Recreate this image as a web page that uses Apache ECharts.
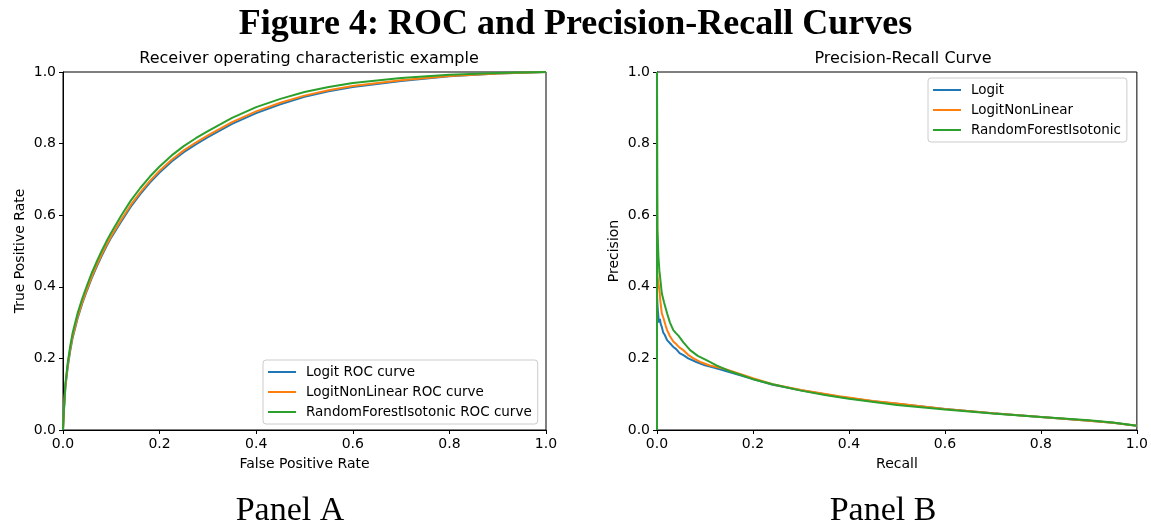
<!DOCTYPE html>
<html>
<head>
<meta charset="utf-8">
<script src="https://cdn.jsdelivr.net/npm/echarts@6/dist/echarts.min.js"></script>
<style>
  html, body { margin: 0; padding: 0; background: #fff; }
  #chart { width: 1151px; height: 524px; }
</style>
</head>
<body>
<div id="chart"></div>
<script>
// Panel A: ROC curves on a shared false-positive-rate grid
const rocFpr = [0, 0.002, 0.005, 0.01, 0.015, 0.02, 0.03, 0.04, 0.05, 0.06, 0.07, 0.08, 0.09, 0.1, 0.12, 0.14, 0.16, 0.18, 0.2, 0.225, 0.25, 0.275, 0.3, 0.35, 0.4, 0.45, 0.5, 0.55, 0.6, 0.7, 0.8, 0.9, 1.0];
const rocLogit = [0, 0.055, 0.12, 0.178, 0.222, 0.258, 0.311, 0.354, 0.391, 0.426, 0.457, 0.486, 0.513, 0.538, 0.581, 0.623, 0.659, 0.691, 0.719, 0.75, 0.776, 0.798, 0.818, 0.855, 0.885, 0.91, 0.931, 0.946, 0.958, 0.975, 0.988, 0.996, 1.0];
const rocLogitNonLinear = [0, 0.06, 0.125, 0.183, 0.227, 0.262, 0.315, 0.358, 0.395, 0.43, 0.461, 0.49, 0.517, 0.542, 0.586, 0.628, 0.664, 0.696, 0.724, 0.755, 0.781, 0.803, 0.823, 0.86, 0.89, 0.914, 0.934, 0.949, 0.961, 0.977, 0.989, 0.996, 1.0];
const rocRandomForestIsotonic = [0, 0.06, 0.13, 0.19, 0.235, 0.272, 0.325, 0.368, 0.405, 0.44, 0.471, 0.5, 0.527, 0.552, 0.598, 0.64, 0.676, 0.708, 0.736, 0.767, 0.793, 0.815, 0.835, 0.872, 0.902, 0.925, 0.944, 0.958, 0.969, 0.983, 0.992, 0.997, 1.0];

// Panel B: precision-recall curves
const prLogitRecall = [0, 0, 0.001, 0.002, 0.004, 0.006, 0.008, 0.01, 0.013, 0.016, 0.021, 0.025, 0.03, 0.034, 0.04, 0.047, 0.055, 0.065, 0.082, 0.1, 0.12, 0.138, 0.17, 0.2, 0.241, 0.3, 0.38, 0.45, 0.5, 0.6, 0.7, 0.8, 0.9, 0.95, 1.0];
const prLogitPrecision = [0, 0.38, 0.35, 0.33, 0.3, 0.31, 0.295, 0.288, 0.272, 0.266, 0.251, 0.247, 0.238, 0.232, 0.226, 0.215, 0.209, 0.2, 0.19, 0.181, 0.174, 0.167, 0.154, 0.142, 0.126, 0.111, 0.093, 0.08, 0.073, 0.059, 0.047, 0.036, 0.026, 0.02, 0.012];
const prNonLinearRecall = [0, 0, 0.001, 0.003, 0.005, 0.007, 0.01, 0.014, 0.018, 0.021, 0.027, 0.034, 0.04, 0.047, 0.055, 0.065, 0.076, 0.09, 0.11, 0.138, 0.17, 0.2, 0.241, 0.3, 0.38, 0.45, 0.5, 0.6, 0.7, 0.8, 0.9, 0.95, 1.0];
const prNonLinearPrecision = [0, 0.665, 0.43, 0.41, 0.39, 0.36, 0.326, 0.31, 0.292, 0.279, 0.262, 0.247, 0.24, 0.23, 0.223, 0.21, 0.2, 0.19, 0.18, 0.172, 0.158, 0.145, 0.128, 0.112, 0.094, 0.081, 0.074, 0.059, 0.047, 0.036, 0.026, 0.02, 0.012];
const prForestRecall = [0, 0, 0.001, 0.003, 0.005, 0.007, 0.01, 0.015, 0.021, 0.027, 0.034, 0.04, 0.045, 0.055, 0.069, 0.085, 0.103, 0.125, 0.15, 0.172, 0.2, 0.241, 0.3, 0.35, 0.4, 0.5, 0.6, 0.7, 0.8, 0.9, 0.95, 1.0];
const prForestPrecision = [0, 1.0, 0.56, 0.484, 0.445, 0.42, 0.382, 0.355, 0.326, 0.3, 0.279, 0.27, 0.263, 0.245, 0.223, 0.207, 0.195, 0.18, 0.165, 0.155, 0.142, 0.128, 0.11, 0.098, 0.087, 0.07, 0.057, 0.046, 0.036, 0.027, 0.021, 0.012];

const rocNames = ['Logit ROC curve', 'LogitNonLinear ROC curve', 'RandomForestIsotonic ROC curve'];
const prNames = ['Logit', 'LogitNonLinear', 'RandomForestIsotonic'];
const colors = ['#1f77b4', '#ff7f0e', '#2ca02c'];

const pairs = (xs, ys) => xs.map((x, i) => [x, ys[i]]);

const SANS = 'DejaVu Sans';
const SERIF = 'Liberation Serif';

function axisCommon(gridIndex, name, isY) {
  return {
    type: 'value', gridIndex: gridIndex, min: 0, max: 1, interval: 0.2,
    name: name, nameLocation: 'middle', nameGap: isY ? 36 : 27,
    nameTextStyle: { fontFamily: SANS, fontSize: 14, color: '#000' },
    axisLine: { show: true, lineStyle: { color: '#000', width: 1 } },
    axisTick: { show: true, inside: false, length: 4, lineStyle: { color: '#000', width: 1 } },
    axisLabel: { margin: 7, fontFamily: SANS, fontSize: 14, color: '#000',
      formatter: v => v.toFixed(1) },
    splitLine: { show: false }
  };
}

function lineSeries(name, data, color, xi) {
  return {
    type: 'line', name: name, xAxisIndex: xi, yAxisIndex: xi,
    data: data, showSymbol: false, symbol: 'none', smooth: false,
    lineStyle: { color: color, width: 2 }, itemStyle: { color: color },
    animation: false, clip: true
  };
}

function legendAt(left, top, names) {
  return {
    data: names, orient: 'vertical', left: left, top: top,
    icon: 'rect', itemWidth: 28, itemHeight: 2, itemGap: 6,
    padding: [5, 6, 5, 5],
    backgroundColor: '#fff', borderColor: '#cccccc', borderWidth: 1, borderRadius: 3,
    selectedMode: false,
    textStyle: { fontFamily: SANS, fontSize: 13.5, color: '#000', lineHeight: 14, padding: [0, 0, 0, 5] }
  };
}

const chart = echarts.init(document.getElementById('chart'), null, { renderer: 'canvas' });
chart.setOption({
  backgroundColor: '#fff',
  animation: false,
  title: [
    { text: '{n|Figure 4: }{b|ROC and Precision-Recall Curves}', left: 'center', top: 2,
      textStyle: { rich: {
        n: { fontFamily: SERIF, fontSize: 36, color: '#000' },
        b: { fontFamily: SERIF, fontSize: 36, fontWeight: 'bold', color: '#000' } } } },
    { text: 'Receiver operating characteristic example', left: 304, top: 46, textAlign: 'center',
      textStyle: { fontFamily: SANS, fontSize: 16, fontWeight: 'normal', color: '#000' } },
    { text: 'Precision-Recall Curve', left: 898, top: 46, textAlign: 'center',
      textStyle: { fontFamily: SANS, fontSize: 16, fontWeight: 'normal', color: '#000' } },
    { text: 'Panel A', left: 285, top: 489, textAlign: 'center',
      textStyle: { fontFamily: SERIF, fontSize: 34, fontWeight: 'normal', color: '#000' } },
    { text: 'Panel B', left: 878, top: 489, textAlign: 'center',
      textStyle: { fontFamily: SERIF, fontSize: 34, fontWeight: 'normal', color: '#000' } }
  ],
  legend: [legendAt(263, 360, rocNames), legendAt(928, 78, prNames)],
  grid: [
    { left: 63, top: 72, width: 483, height: 358, show: true, borderColor: '#000', borderWidth: 1, backgroundColor: 'transparent' },
    { left: 657, top: 72, width: 482, height: 358, show: true, borderColor: '#000', borderWidth: 1, backgroundColor: 'transparent' }
  ],
  xAxis: [axisCommon(0, 'False Positive Rate', false), axisCommon(1, 'Recall', false)],
  yAxis: [Object.assign(axisCommon(0, 'True Positive Rate', true), { nameRotate: 90 }),
          Object.assign(axisCommon(1, 'Precision', true), { nameRotate: 90 })],
  series: [
    lineSeries(rocNames[0], pairs(rocFpr, rocLogit), colors[0], 0),
    lineSeries(rocNames[1], pairs(rocFpr, rocLogitNonLinear), colors[1], 0),
    lineSeries(rocNames[2], pairs(rocFpr, rocRandomForestIsotonic), colors[2], 0),
    lineSeries(prNames[0], pairs(prLogitRecall, prLogitPrecision), colors[0], 1),
    lineSeries(prNames[1], pairs(prNonLinearRecall, prNonLinearPrecision), colors[1], 1),
    lineSeries(prNames[2], pairs(prForestRecall, prForestPrecision), colors[2], 1)
  ]
});
</script>
</body>
</html>
